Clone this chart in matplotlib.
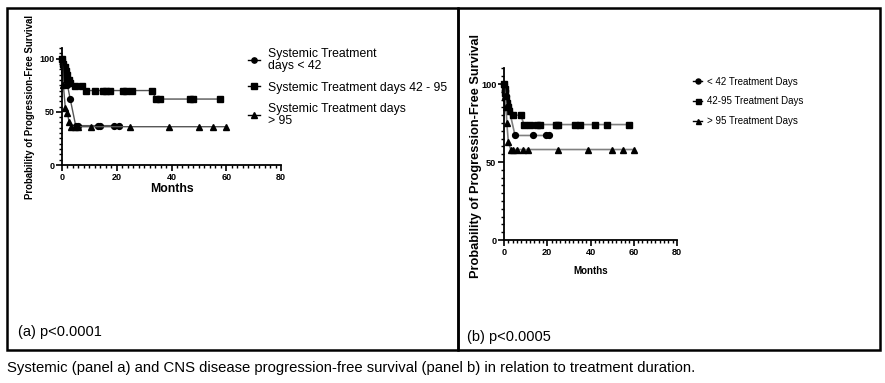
"""Kaplan-Meier style progression-free survival panels by treatment duration."""
import matplotlib
matplotlib.use("Agg")
import matplotlib.pyplot as plt
from matplotlib.lines import Line2D
from matplotlib.patches import Rectangle
from matplotlib.ticker import MultipleLocator

# Panel (a): systemic progression-free survival
a_lt42_x = [0, 0.3, 0.7, 1.0, 1.5, 2.0, 3.0, 5.0, 6.0, 13.0, 13.8, 19.0, 20.7]
a_lt42_y = [100, 93, 87, 83, 80, 75, 62, 37, 37, 37, 37, 37, 37]
a_mid_x = [0, 0.5, 1.0, 1.5, 2.0, 2.5, 3.0, 4.6, 7.3, 8.9, 12.0, 15.0, 16.2,
           17.4, 22.3, 23.5, 25.4, 32.7, 34.5, 35.7, 46.7, 48.0, 57.7]
a_mid_y = [100, 95, 92, 88, 85, 80, 77, 74, 74, 70, 70, 70, 70,
           70, 70, 70, 70, 70, 62, 62, 62, 62, 62]
a_gt95_x = [0, 0.5, 1.2, 2.0, 2.6, 3.4, 4.6, 5.9, 10.7, 25.0, 39.0, 50.0, 55.0, 60.0]
a_gt95_y = [100, 75, 54, 49, 40, 36, 36, 36, 36, 36, 36, 36, 36, 36]
a_labels = ["Systemic Treatment\ndays < 42",
            "Systemic Treatment days 42 - 95",
            "Systemic Treatment days\n> 95"]

# Panel (b): CNS progression-free survival
b_lt42_x = [0, 0.5, 1.0, 1.5, 2.0, 2.5, 5.1, 13.3, 19.5, 21.0]
b_lt42_y = [100, 96, 92, 88, 85, 83, 67, 67, 67, 67]
b_mid_x = [0, 0.3, 0.6, 1.0, 1.5, 2.0, 2.5, 4.3, 7.7, 9.3, 12.0, 15.4, 16.7,
           24.0, 25.1, 33.0, 35.2, 42.0, 47.6, 58.0]
b_mid_y = [100, 97, 94, 91, 88, 85, 83, 80, 80, 74, 74, 74, 74,
           74, 74, 74, 74, 74, 74, 74]
b_gt95_x = [0, 0.5, 1.0, 1.3, 2.0, 3.1, 4.3, 6.2, 8.6, 11.3, 25.0, 39.0, 50.0, 55.0, 60.0]
b_gt95_y = [100, 92, 85, 75, 63, 58, 58, 58, 58, 58, 58, 58, 58, 58, 58]
b_labels = ["< 42 Treatment Days", "42-95 Treatment Days", "> 95 Treatment Days"]

MARKERS = ["o", "s", "^"]
ARIAL = ["Liberation Sans", "DejaVu Sans"]


def style_axes(ax, tick_size, xlabel_size, ylabel_size, xpad, ypad):
    ax.set_xlim(0, 80)
    ax.set_ylim(0, 110)
    ax.spines["top"].set_visible(False)
    ax.spines["right"].set_visible(False)
    for side in ("left", "bottom"):
        ax.spines[side].set_linewidth(1.3)
    ax.xaxis.set_major_locator(MultipleLocator(20))
    ax.xaxis.set_minor_locator(MultipleLocator(2))
    ax.yaxis.set_major_locator(MultipleLocator(50))
    ax.yaxis.set_minor_locator(MultipleLocator(5))
    ax.tick_params(which="major", length=4, width=1.2, pad=1.5)
    ax.tick_params(which="minor", length=2.5, width=1.0)
    for label in ax.get_xticklabels() + ax.get_yticklabels():
        label.set(family=ARIAL, fontweight="bold", fontsize=tick_size)
    ax.set_xlabel("Months", family=ARIAL, fontweight="bold",
                  fontsize=xlabel_size, labelpad=xpad)
    ax.set_ylabel("Probability of Progression-Free Survival", family=ARIAL,
                  fontweight="bold", fontsize=ylabel_size, labelpad=ypad)


def draw_curves(ax, series, msize, line_color, lw):
    for (x, y), m in zip(series, MARKERS):
        ax.plot(x, y, color=line_color, linewidth=lw, marker=m, markersize=msize,
                markerfacecolor="black", markeredgecolor="black", clip_on=False)


fig = plt.figure(figsize=(8.85, 3.83), dpi=100)

# panel frames
for x0, w in ((7, 451), (458, 422)):
    fig.patches.append(Rectangle((x0 / 885, 1 - 350 / 383), w / 885, 342 / 383,
                                 transform=fig.transFigure, fill=False,
                                 edgecolor="black", linewidth=1.8))

# panel (a)
ax_a = fig.add_axes([62 / 885, 1 - 165 / 383, 219 / 885, 117 / 383])
draw_curves(ax_a, [(a_lt42_x, a_lt42_y), (a_mid_x, a_mid_y), (a_gt95_x, a_gt95_y)],
            4.2, "#555555", 1.0)
style_axes(ax_a, 6.5, 8.8, 6.9, 1, 3)
handles_a = [Line2D([], [], color="black", linewidth=1.0, marker=m, markersize=3.8)
             for m in MARKERS]
leg_a = ax_a.legend(handles_a, a_labels, loc="upper left", bbox_to_anchor=(0.828, 1.04),
                    frameon=False, handlelength=1.0, handletextpad=0.6,
                    labelspacing=0.8, borderaxespad=0,
                    prop={"family": ARIAL, "size": 8.8})
for t in leg_a.get_texts():
    t.set_linespacing(0.95)

# panel (b)
ax_b = fig.add_axes([504 / 885, 1 - 240 / 383, 173 / 885, 171.6 / 383])
draw_curves(ax_b, [(b_lt42_x, b_lt42_y), (b_mid_x, b_mid_y), (b_gt95_x, b_gt95_y)],
            4.2, "#808080", 1.2)
style_axes(ax_b, 6.6, 7.0, 9.2, 7, 0.5)
ax_b.yaxis.set_label_coords(-0.125, 0.49)
handles_b = [Line2D([], [], color="black", linewidth=1.0, marker=m, markersize=3.6)
             for m in MARKERS]
ax_b.legend(handles_b, b_labels, loc="upper left", bbox_to_anchor=(1.072, 0.975),
            frameon=False, handlelength=0.9, handletextpad=0.5, labelspacing=1.0,
            borderaxespad=0, prop={"family": ARIAL, "size": 7.0})

# panel captions
fig.text(18 / 885, 1 - 332 / 383, "(a) p<0.0001", family=ARIAL, fontsize=10.5, va="center")
fig.text(467 / 885, 1 - 337 / 383, "(b) p<0.0005", family=ARIAL, fontsize=10.5, va="center")
fig.text(7 / 885, 1 - 368 / 383,
         "Systemic (panel a) and CNS disease progression-free survival (panel b) "
         "in relation to treatment duration.",
         family=ARIAL, fontsize=10.7, va="center")

fig.savefig("out.png", dpi=100)
